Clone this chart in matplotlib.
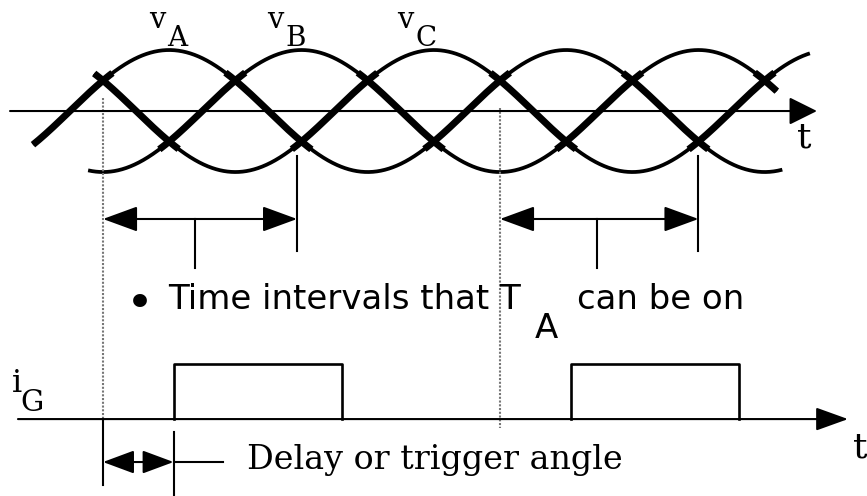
import numpy as np
import matplotlib.pyplot as plt

# three phase voltages, angle in degrees (0 = rising zero of v_A)
phases = ['A', 'B', 'C']
phase_shift = [0, 120, 240]
wave_start = [-33.5, 16.5, 22]
wave_end = [646, 641, 671]
overshoot = 9  # thick (middle phase) part runs a bit past each crossing

# natural commutation points of T_A and the intervals it can conduct
commutation = [30, 390]
interval_end = [206, 570]
interval_mid = [113, 478]

# gate current pulses
delay = 64
pulse_width = 153
pulse_height = 0.9

# layout (y unit = amplitude of the phase voltage)
gate_base = -5.05
arrow_y = -1.77
delay_y = -5.754

fig = plt.figure(figsize=(8.67, 4.96), dpi=100)
ax = fig.add_axes([0, 0, 1, 1])
ax.set_xlim(-63.4, 722.8)
ax.set_ylim(-6.311, 1.820)
ax.axis('off')


def arrow(x0, y0, x1, y1, style, hl, hw, lw=1.5):
    ax.annotate('', xy=(x1, y1), xytext=(x0, y0),
                arrowprops=dict(arrowstyle=f'{style},head_length={hl},head_width={hw}',
                                mutation_scale=1, lw=lw, color='k',
                                shrinkA=0, shrinkB=0))


# waveforms: thin everywhere, thick where the phase is the middle one
lim = np.sin(np.radians(30 + overshoot))
for name, shift, t0, t1 in zip(phases, phase_shift, wave_start, wave_end):
    th = np.linspace(t0, t1, 1500)
    v = np.sin(np.radians(th - shift))
    ax.plot(th, v, color='k', lw=2.7, solid_capstyle='butt')
    ax.plot(th, np.where(np.abs(v) <= lim, v, np.nan), color='k', lw=5.0,
            solid_capstyle='butt')

# time axis of the voltages
arrow(-54.3, 0, 677.4, 0, '-|>', 17.3, 8.6)
ax.text(659.3, -0.59, 't', fontsize=26, family='DejaVu Serif', va='baseline')

# phase labels
label_x = [72, 179, 297]
for name, x in zip(phases, label_x):
    ax.text(x, 1.361, 'v', fontsize=21, family='DejaVu Serif', va='baseline')
    ax.text(x + 16, 1.066, name, fontsize=20, family='DejaVu Serif', va='baseline')

# dotted lines at the commutation points
ax.plot([commutation[0]] * 2, [0.213, gate_base], color='#777777', lw=1.5,
        ls=(0, (1, 0.8)))
ax.plot([commutation[1]] * 2, [0.049, gate_base - 0.15], color='#777777', lw=1.5,
        ls=(0, (1, 0.8)))

# intervals where T_A can be on
for c, e, m in zip(commutation, interval_end, interval_mid):
    ax.plot([e, e], [-0.74, -2.30], color='k', lw=1.5)
    arrow(c, arrow_y, e, arrow_y, '<|-|>', 21.6, 7.9)
    ax.plot([m, m], [arrow_y, -2.574], color='k', lw=1.5)

ax.text(51, -3.40, '\u2022', fontsize=34, family='DejaVu Sans', va='baseline')
ax.text(88.9, -3.246, 'Time intervals that T', fontsize=24.5, family='DejaVu Sans',
        va='baseline')
ax.text(421.7, -3.721, 'A', fontsize=24.5, family='DejaVu Sans', va='baseline')
ax.text(459.8, -3.246, 'can be on', fontsize=24.5, family='DejaVu Sans',
        va='baseline')

# gate current
arrow(-47.1, gate_base, 705.6, gate_base, '-|>', 20, 7.2)
ax.text(710.1, -5.672, 't', fontsize=26, family='DejaVu Serif', va='baseline')
ax.text(-52.5, -4.607, 'i', fontsize=23, family='DejaVu Serif', va='baseline')
ax.text(-44.5, -4.918, 'G', fontsize=21, family='DejaVu Serif', va='baseline')
for c in commutation:
    on = c + delay
    ax.plot([on, on, on + pulse_width, on + pulse_width],
            [gate_base, gate_base + pulse_height, gate_base + pulse_height, gate_base],
            color='k', lw=1.9)

# delay / trigger angle marker
trig = commutation[0] + delay
ax.plot([commutation[0]] * 2, [gate_base, -6.131], color='k', lw=1.5)
ax.plot([trig, trig], [-5.262, -6.311], color='k', lw=1.5)
arrow(commutation[0], delay_y, trig, delay_y, '<|-|>', 19.4, 7.2)
ax.plot([trig, trig + 45], [delay_y, delay_y], color='k', lw=1.5)
ax.text(160.6, -5.869, 'Delay or trigger angle', fontsize=24, family='DejaVu Serif',
        va='baseline')

fig.savefig('out.png', dpi=100)
